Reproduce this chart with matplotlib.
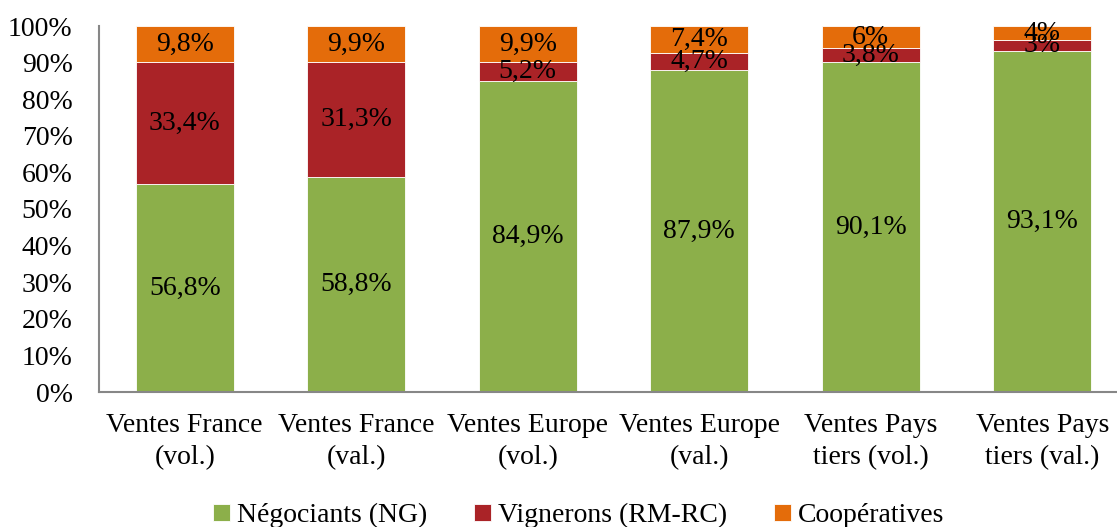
import numpy as np
import matplotlib
matplotlib.use('Agg')
import matplotlib.pyplot as plt

# Data
categories = ['Ventes France\n(vol.)', 'Ventes France\n(val.)', 'Ventes Europe\n(vol.)',
              'Ventes Europe\n(val.)', 'Ventes Pays\ntiers (vol.)', 'Ventes Pays\ntiers (val.)']
negociants = [56.8, 58.8, 84.9, 87.9, 90.1, 93.1]
vignerons = [33.4, 31.3, 5.2, 4.7, 3.8, 3.0]
cooperatives = [9.8, 9.9, 9.9, 7.4, 6.0, 4.0]
neg_labels = ['56,8%', '58,8%', '84,9%', '87,9%', '90,1%', '93,1%']
vig_labels = ['33,4%', '31,3%', '5,2%', '4,7%', '3,8%', '3%']
coop_labels = ['9,8%', '9,9%', '9,9%', '7,4%', '6%', '4%']
series_names = ['Négociants (NG)', 'Vignerons (RM-RC)', 'Coopératives']
colors = ['#8CAF4A', '#AA2327', '#E46C0A']

plt.rcParams['font.family'] = ['Liberation Serif', 'DejaVu Serif']
fs = 20

fig = plt.figure(figsize=(11.17, 5.27), dpi=100)
# axes extends slightly past the right edge, as in the reference
ax = fig.add_axes([99 / 1117, 1 - 392 / 527, (1128 - 99) / 1117, (392 - 26) / 527])

x = np.arange(len(categories))
w = 0.57
b1 = ax.bar(x, negociants, w, color=colors[0], label=series_names[0], edgecolor='white', linewidth=0.6)
b2 = ax.bar(x, vignerons, w, bottom=negociants, color=colors[1], label=series_names[1],
            edgecolor='white', linewidth=0.6)
bottom3 = np.array(negociants) + np.array(vignerons)
b3 = ax.bar(x, cooperatives, w, bottom=bottom3, color=colors[2], label=series_names[2],
            edgecolor='white', linewidth=0.6)

for bars, labs in [(b1, neg_labels), (b2, vig_labels), (b3, coop_labels)]:
    ax.bar_label(bars, labels=labs, label_type='center', fontsize=fs, color='black')

ax.set_xlim(-0.5, len(categories) - 0.5)
ax.set_ylim(0, 100)
ax.set_yticks(np.arange(0, 101, 10))
ax.set_yticklabels([f'{v}%' for v in range(0, 101, 10)])
ax.set_xticks(x)
ax.set_xticklabels(categories, linespacing=1.4)
ax.tick_params(axis='both', length=0, labelsize=fs)
ax.tick_params(axis='y', pad=19)
ax.tick_params(axis='x', pad=15)

for s in ['top', 'right']:
    ax.spines[s].set_visible(False)
for s in ['left', 'bottom']:
    ax.spines[s].set_color('#878787')
    ax.spines[s].set_linewidth(1.5)

fig.legend(loc='lower center', bbox_to_anchor=(0.518, -0.05), ncol=3, frameon=False,
           fontsize=fs, handlelength=0.6, handleheight=0.6, handletextpad=0.25,
           columnspacing=1.7)

plt.savefig('out.png', dpi=100)
